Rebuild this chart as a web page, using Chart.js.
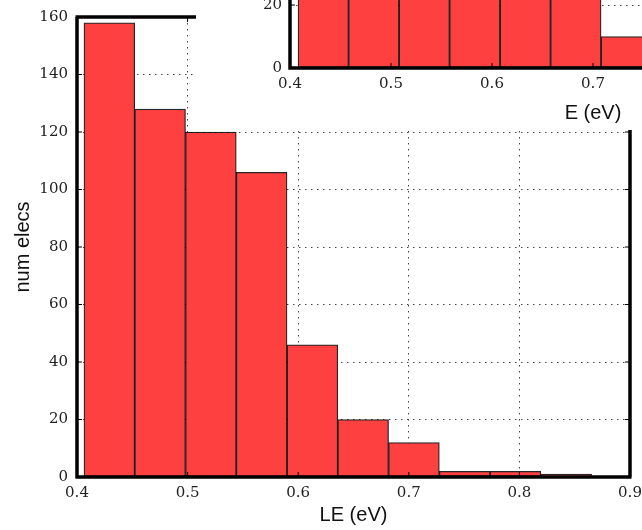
<!DOCTYPE html>
<html>
<head>
<meta charset="utf-8">
<script src="https://cdn.jsdelivr.net/npm/chart.js@4/dist/chart.umd.min.js"></script>
<style>
  html, body { margin: 0; padding: 0; background: #fff; overflow: hidden; }
  #wrap { position: relative; width: 642px; height: 530px; overflow: hidden; }
  #mainChart { position: absolute; left: 0; top: 0; }
  #insetChart { position: absolute; left: 196px; top: 0; background: #fff; }
</style>
</head>
<body>
<div id="wrap">
  <canvas id="mainChart" width="642" height="530"></canvas>
  <canvas id="insetChart" width="720" height="130"></canvas>
</div>
<script>
// main histogram: LE (eV)
const leEdges = [0.4063, 0.4522, 0.4981, 0.5440, 0.5899, 0.6358, 0.6817, 0.7276, 0.7735, 0.8194, 0.8653];
const leCounts = [158, 128, 120, 106, 46, 20, 12, 2, 2, 1];
const leTicks = [0.4, 0.5, 0.6, 0.7, 0.8, 0.9];
const countTicks = [0, 20, 40, 60, 80, 100, 120, 140, 160];

// inset histogram: E (eV), top part is cut off in the picture
const eEdges = [0.408, 0.458, 0.508, 0.558, 0.608, 0.658, 0.708, 0.758];
const eCounts = [150, 130, 115, 90, 55, 25, 10];
const eTicks = [0.4, 0.5, 0.6, 0.7, 0.8, 0.9, 1.0];
const eCountTicks = [0, 20];

const barFill = "#ff4040";
const tickFont = { family: "DejaVu Serif", size: 15 };
const titleFont = { family: "Liberation Sans", size: 20 };

/**
 * turn bin edges + counts into bar points at the bin centers
 */
function histPoints(edges, counts) {
  return counts.map((c, i) => ({ x: (edges[i] + edges[i + 1]) / 2, y: c }));
}

function fixedTicks(list) {
  return scale => { scale.ticks = list.map(v => ({ value: v })); };
}

/**
 * thick frame + small inward ticks, like the old matplotlib look
 */
function spinePlugin(sides) {
  return {
    id: "spines",
    afterDraw(chart) {
      const { ctx, chartArea: a, scales } = chart;
      const len = 5;
      ctx.save();
      ctx.strokeStyle = "#000";
      ctx.lineWidth = 1;
      ctx.beginPath();
      scales.x.ticks.forEach(t => {
        const px = scales.x.getPixelForValue(t.value);
        if (sides.includes("bottom")) { ctx.moveTo(px, a.bottom); ctx.lineTo(px, a.bottom - len); }
        if (sides.includes("top")) { ctx.moveTo(px, a.top); ctx.lineTo(px, a.top + len); }
      });
      scales.y.ticks.forEach(t => {
        const py = scales.y.getPixelForValue(t.value);
        if (sides.includes("left")) { ctx.moveTo(a.left, py); ctx.lineTo(a.left + len, py); }
        if (sides.includes("right")) { ctx.moveTo(a.right, py); ctx.lineTo(a.right - len, py); }
      });
      ctx.stroke();
      ctx.lineWidth = 3.5;
      ctx.beginPath();
      if (sides.includes("left")) { ctx.moveTo(a.left, a.top); ctx.lineTo(a.left, a.bottom + 1.5); }
      if (sides.includes("bottom")) { ctx.moveTo(a.left - 1.5, a.bottom); ctx.lineTo(a.right + 1.5, a.bottom); }
      if (sides.includes("top")) { ctx.moveTo(a.left - 1.5, a.top); ctx.lineTo(a.right + 1.5, a.top); }
      if (sides.includes("right")) { ctx.moveTo(a.right, a.top); ctx.lineTo(a.right, a.bottom); }
      ctx.stroke();
      ctx.restore();
    }
  };
}

const dottedGrid = {
  color: "#444",
  lineWidth: 1,
  drawTicks: false,
  offset: false
};

function histChart(canvas, cfg) {
  return new Chart(canvas, {
    type: "bar",
    data: {
      datasets: [{
        data: histPoints(cfg.edges, cfg.counts),
        backgroundColor: barFill,
        borderColor: "rgba(0,0,0,0.85)",
        borderWidth: 1.3,
        borderSkipped: false,
        barPercentage: 1,
        categoryPercentage: 1
      }]
    },
    options: {
      responsive: false,
      animation: false,
      devicePixelRatio: 1,
      layout: { padding: cfg.padding },
      plugins: { legend: { display: false }, tooltip: { enabled: false } },
      scales: {
        x: {
          type: "linear",
          min: cfg.xMin,
          max: cfg.xMax,
          offset: false,
          z: 1,
          afterBuildTicks: fixedTicks(cfg.xTicks),
          afterFit: s => { s.height = cfg.xAxisHeight; s.paddingLeft = 0; s.paddingRight = 0; },
          grid: Object.assign({}, dottedGrid),
          border: { display: false, dash: [1.5, 4.5] },
          ticks: {
            font: tickFont,
            color: "#222",
            padding: cfg.xTickPad,
            maxRotation: 0,
            autoSkip: false,
            callback: v => v.toFixed(1)
          },
          title: {
            display: true,
            text: cfg.xTitle,
            font: titleFont,
            color: "#111",
            padding: { top: 0, bottom: cfg.xTitlePad }
          }
        },
        y: {
          min: 0,
          max: cfg.yMax,
          z: 1,
          afterBuildTicks: fixedTicks(cfg.yTicks),
          afterFit: s => { s.width = cfg.yAxisWidth; s.paddingTop = 0; s.paddingBottom = 0; },
          grid: Object.assign({}, dottedGrid),
          border: { display: false, dash: [1.5, 4.5] },
          ticks: { font: tickFont, color: "#222", padding: cfg.yTickPad },
          title: cfg.yTitle ? {
            display: true,
            text: cfg.yTitle,
            font: titleFont,
            color: "#111",
            padding: { top: 11, bottom: 0 }
          } : { display: false }
        }
      }
    },
    plugins: [spinePlugin(cfg.sides)]
  });
}

histChart(document.getElementById("mainChart"), {
  edges: leEdges,
  counts: leCounts,
  xMin: 0.4, xMax: 0.9, xTicks: leTicks,
  yMax: 160, yTicks: countTicks,
  xTitle: "LE (eV)", yTitle: "num elecs",
  padding: { top: 17, right: 12, left: 0, bottom: 0 },
  xAxisHeight: 53, yAxisWidth: 77,
  xTickPad: 7, yTickPad: 9, xTitlePad: 3,
  sides: ["left", "bottom", "top", "right"]
});

histChart(document.getElementById("insetChart"), {
  edges: eEdges,
  counts: eCounts,
  xMin: 0.4, xMax: 1.0, xTicks: eTicks,
  yMax: 21.6, yTicks: eCountTicks,
  xTitle: "E (eV)", yTitle: null,
  padding: { top: 0, right: 20, left: 0, bottom: 0 },
  xAxisHeight: 62, yAxisWidth: 94,
  xTickPad: 7, yTickPad: 8, xTitlePad: 5,
  sides: ["left", "bottom"]
});
</script>
</body>
</html>
